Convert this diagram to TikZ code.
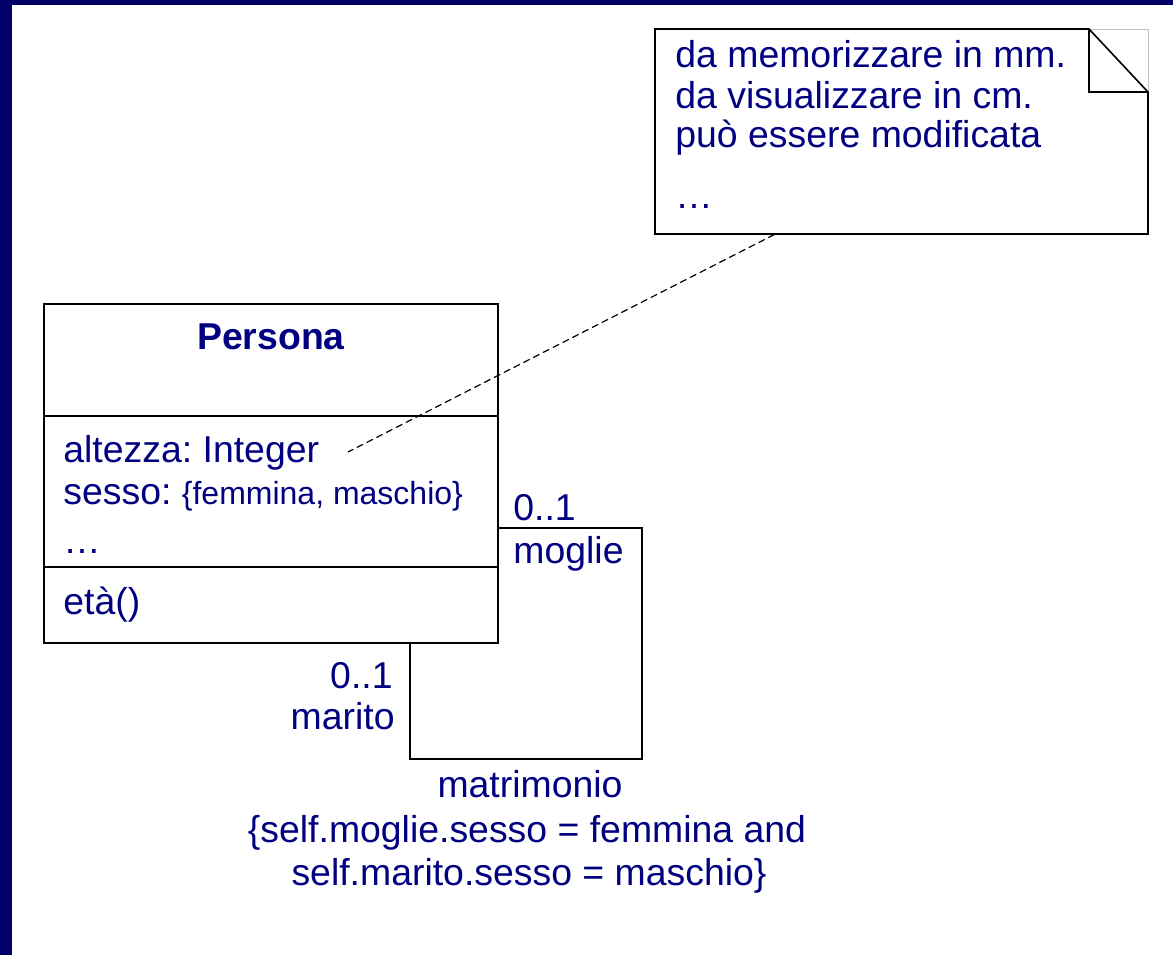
\documentclass[tikz,border=0pt]{standalone}
\usepackage{fontspec}
\setmainfont{Liberation Sans}
\usetikzlibrary{calc}
\definecolor{navybar}{RGB}{0,0,102}
\definecolor{navytext}{RGB}{0,0,128}
\frenchspacing
\begin{document}
\begin{tikzpicture}[x=0.5pt,y=-0.5pt,
  txt/.style={inner sep=0pt, text=navytext, font=\fontsize{18.7}{22}\selectfont},
  boxline/.style={draw=black, line width=0.8pt},
  assoc/.style={draw=black, line width=1.1pt},
  notelink/.style={draw=black, line width=0.6pt, dash pattern=on 3.5pt off 2pt}]
\useasboundingbox (0,0) rectangle (1173,955);
\fill[white] (0,0) rectangle (1173,955);
\fill[navybar] (0,0) rectangle (12,955);
\fill[navybar] (0,0) rectangle (1173,5);

% note
\node[minimum width=246.5pt, minimum height=102.5pt, inner sep=0pt] (note) at (901.5,131.5) {};
\draw[black!25, line width=0.5pt] (1089,29) -- (1148,29) -- (1148,92);
\draw[boxline] (1089,29) -- (655,29) -- (655,234) -- (1148,234) -- (1148,92) -- cycle;
\draw[boxline] (1089,29) -- (1089,92) -- (1148,92);
\node[txt, anchor=base west] (n1) at (675,67) {da memorizzare in mm.};
\node[txt, anchor=base west] (n2) at (675,108) {da visualizzare in cm.};
\node[txt, anchor=base west] (n3) at (675,147) {può essere modificata};
\node[txt, anchor=base west] (n4) at (675,208) {…};

% class
\node[boxline, minimum width=227pt, minimum height=169.5pt, inner sep=0pt] (persona) at (271,473.5) {};
\draw[boxline] (persona.west |- {(0,416)}) -- (persona.east |- {(0,416)});
\draw[boxline] (persona.west |- {(0,567)}) -- (persona.east |- {(0,567)});
\node[txt, anchor=base, font=\fontsize{18.7}{22}\selectfont\bfseries] (pname) at (271,349) {Persona};
\node[txt, anchor=base west] (a1) at (63,462) {altezza: Integer};
\node[txt, anchor=base west] (a2) at (63,504) {sesso: {\fontsize{16}{19}\selectfont\{femmina, maschio\}}};
\node[txt, anchor=base west] (a3) at (63,553) {…};
\node[txt, anchor=base west] (m1) at (63,614) {età()};

% note link
\coordinate (attr) at (348,452);
\draw[notelink] ([xshift=60pt]note.south west) -- (attr);

% association
\coordinate (c1) at (642,528);
\coordinate (c2) at (642,759);
\coordinate (c3) at (410,759);
\draw[assoc] (persona.east |- c1) -- (c1) -- (c2) -- (c3) -- (persona.south -| c3);

\node[txt, anchor=base west] (m01) at (513,520) {0..1};
\node[txt, anchor=base west] (mog) at (513,563) {moglie};
\node[txt, anchor=base east] (h01) at (393,688) {0..1};
\node[txt, anchor=base east] (mar) at (395,729) {marito};
\node[txt, anchor=base] (mat) at (530,797) {matrimonio};
\node[txt, anchor=base] (k1) at (527,842) {\{self.moglie.sesso = femmina and};
\node[txt, anchor=base] (k2) at (529,885) {self.marito.sesso = maschio\}};
\end{tikzpicture}
\end{document}
